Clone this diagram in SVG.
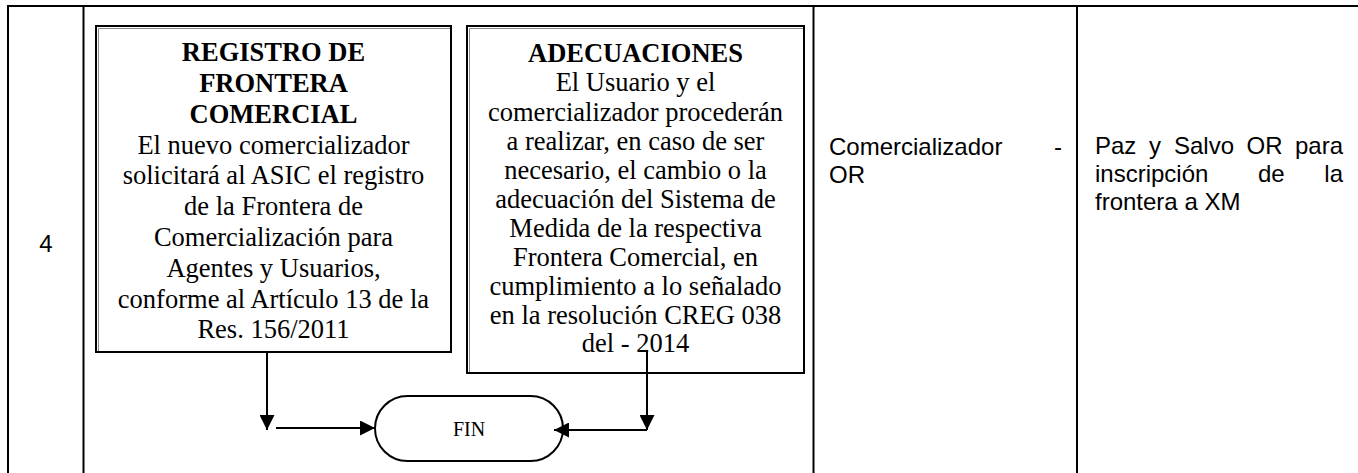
<svg xmlns="http://www.w3.org/2000/svg" width="1358" height="473" viewBox="0 0 1358 473">
<defs>
<style>
.grid{stroke:#000;stroke-width:2;fill:none}
.box{fill:#fff;stroke:#000;stroke-width:2}
.boxin{fill:none;stroke:#8a8a8a;stroke-width:1}
.serif{font-family:"Liberation Serif","Times New Roman",serif;font-size:26.5px;fill:#000;text-anchor:middle}
.b{font-weight:bold}
.sans{font-family:"Liberation Sans",Arial,sans-serif;font-size:24px;fill:#000}
.conn{stroke:#000;stroke-width:2;fill:none}
.term{fill:#fff;stroke:#000;stroke-width:2}
</style>
<marker id="ah" markerWidth="15" markerHeight="15" viewBox="0 0 15 15" refX="15" refY="7.5" orient="auto" markerUnits="userSpaceOnUse">
<path d="M0,0 L15,7.5 L0,15 Z" fill="#000"/>
</marker>
</defs>
<rect width="1358" height="473" fill="#fff"/>
<g id="table">
<line class="grid" x1="7" y1="6" x2="1358" y2="6"/>
<line class="grid" x1="8" y1="5" x2="8" y2="473"/>
<line class="grid" x1="83.5" y1="6" x2="83.5" y2="473"/>
<line class="grid" x1="813.5" y1="6" x2="813.5" y2="473"/>
<line class="grid" x1="1077" y1="6" x2="1077" y2="473"/>
<text class="sans" x="46" y="252" text-anchor="middle">4</text>
</g>
<g id="responsable">
<text class="sans" x="829" y="155">Comercializador</text>
<text class="sans" x="1062" y="155" text-anchor="end">-</text>
<text class="sans" x="829" y="183">OR</text>
</g>
<g id="registro">
<text class="sans" x="1095" y="154">Paz</text>
<text class="sans" x="1149" y="154">y</text>
<text class="sans" x="1174" y="154">Salvo</text>
<text class="sans" x="1246.5" y="154">OR</text>
<text class="sans" x="1343" y="154" text-anchor="end">para</text>
<text class="sans" x="1095" y="182">inscripción</text>
<text class="sans" x="1258" y="182">de</text>
<text class="sans" x="1343" y="182" text-anchor="end">la</text>
<text class="sans" x="1095" y="210">frontera a XM</text>
</g>
<g id="registro-frontera">
<rect class="box" x="96" y="26" width="355" height="326"/>
<path class="boxin" d="M98.5,351 V28.5 H450"/>
<text class="serif b" x="273.5" y="61">REGISTRO DE</text>
<text class="serif b" x="273.5" y="92">FRONTERA</text>
<text class="serif b" x="273.5" y="122.5">COMERCIAL</text>
<text class="serif" x="273.5" y="153.5">El nuevo comercializador</text>
<text class="serif" x="273.5" y="184">solicitará al ASIC el registro</text>
<text class="serif" x="273.5" y="215">de la Frontera de</text>
<text class="serif" x="273.5" y="246">Comercialización para</text>
<text class="serif" x="273.5" y="276.5">Agentes y Usuarios,</text>
<text class="serif" x="273.5" y="307.5">conforme al Artículo 13 de la</text>
<text class="serif" x="273.5" y="338">Res. 156/2011</text>
</g>
<g id="adecuaciones">
<rect class="box" x="467" y="26" width="337" height="347"/>
<path class="boxin" d="M469.5,372 V28.5 H803"/>
<text class="serif b" x="635.5" y="62">ADECUACIONES</text>
<text class="serif" x="635.5" y="91">El Usuario y el</text>
<text class="serif" x="635.5" y="120.5">comercializador procederán</text>
<text class="serif" x="635.5" y="149.5">a realizar, en caso de ser</text>
<text class="serif" x="635.5" y="179">necesario, el cambio o la</text>
<text class="serif" x="635.5" y="208">adecuación del Sistema de</text>
<text class="serif" x="635.5" y="237">Medida de la respectiva</text>
<text class="serif" x="635.5" y="265.5">Frontera Comercial, en</text>
<text class="serif" x="635.5" y="294.5">cumplimiento a lo señalado</text>
<text class="serif" x="635.5" y="323.5">en la resolución CREG 038</text>
<text class="serif" x="635.5" y="352">del - 2014</text>
</g>
<g id="fin">
<rect class="term" x="375" y="396" width="188" height="65" rx="32.5" ry="32.5"/>
<text x="469" y="436" font-family="Liberation Serif, Times New Roman, serif" font-size="20" text-anchor="middle">FIN</text>
</g>
<g id="connectors">
<line class="conn" x1="267" y1="352" x2="267" y2="430" marker-end="url(#ah)"/>
<line class="conn" x1="276" y1="428" x2="375" y2="428" marker-end="url(#ah)"/>
<line class="conn" x1="647" y1="350" x2="647" y2="430" marker-end="url(#ah)"/>
<line class="conn" x1="647" y1="430" x2="554" y2="430" marker-end="url(#ah)"/>
</g>
</svg>
